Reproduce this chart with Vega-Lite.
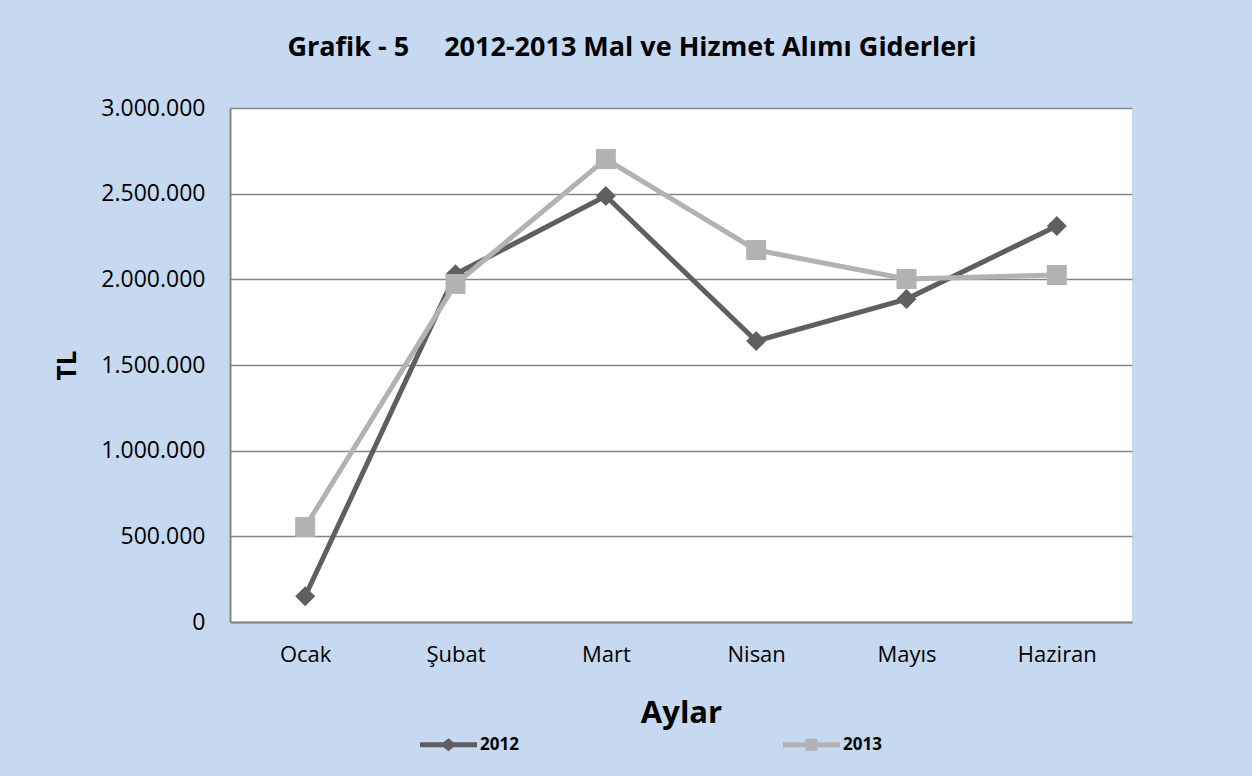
{
  "$schema": "https://vega.github.io/schema/vega-lite/v6.json",
  "width": 902,
  "height": 514,
  "autosize": {"type": "none"},
  "padding": {"left": 230, "top": 108, "right": 120, "bottom": 154},
  "background": "#c6d9f1",
  "title": {
    "text": "Grafik - 5\u00a0\u00a0\u00a0\u00a0\u00a02012-2013 Mal ve Hizmet Alımı Giderleri",
    "font": "Open Sans",
    "fontSize": 27,
    "fontWeight": "bold",
    "color": "#000000",
    "anchor": "middle",
    "frame": "group",
    "dx": -49,
    "offset": 35
  },
  "config": {
    "view": {"fill": "white", "stroke": null},
    "font": "Open Sans"
  },
  "data": {
    "values": [
      {"ay": "Ocak", "yil": "2012", "tl": 150000},
      {"ay": "Şubat", "yil": "2012", "tl": 2030000},
      {"ay": "Mart", "yil": "2012", "tl": 2486000},
      {"ay": "Nisan", "yil": "2012", "tl": 1640000},
      {"ay": "Mayıs", "yil": "2012", "tl": 1885000},
      {"ay": "Haziran", "yil": "2012", "tl": 2311000},
      {"ay": "Ocak", "yil": "2013", "tl": 554000},
      {"ay": "Şubat", "yil": "2013", "tl": 1973000},
      {"ay": "Mart", "yil": "2013", "tl": 2702000},
      {"ay": "Nisan", "yil": "2013", "tl": 2171000},
      {"ay": "Mayıs", "yil": "2013", "tl": 2002000},
      {"ay": "Haziran", "yil": "2013", "tl": 2025000}
    ]
  },
  "encoding": {
    "x": {
      "field": "ay",
      "type": "ordinal",
      "sort": ["Ocak", "Şubat", "Mart", "Nisan", "Mayıs", "Haziran"],
      "scale": {"type": "point", "padding": 0.5},
      "axis": {
        "title": "Aylar",
        "titleFont": "Open Sans",
        "titleFontSize": 31,
        "titleFontWeight": "bold",
        "titleColor": "#000000",
        "titlePadding": 33,
        "labelFont": "Open Sans",
        "labelFontSize": 22,
        "labelColor": "#000000",
        "labelAngle": 0,
        "labelPadding": 22,
        "ticks": false,
        "grid": false,
        "domainColor": "#868686",
        "domainWidth": 2
      }
    },
    "y": {
      "field": "tl",
      "type": "quantitative",
      "scale": {"domain": [0, 3000000]},
      "axis": {
        "title": "TL",
        "titleFont": "Open Sans",
        "titleFontSize": 26,
        "titleFontWeight": "bold",
        "titleColor": "#000000",
        "titlePadding": 20,
        "values": [0, 500000, 1000000, 1500000, 2000000, 2500000, 3000000],
        "labelExpr": "replace(replace(format(datum.value, ','), ',', '.'), ',', '.')",
        "labelFont": "Open Sans",
        "labelFontSize": 23,
        "labelColor": "#000000",
        "labelPadding": 25,
        "ticks": false,
        "grid": true,
        "gridColor": "#868686",
        "gridWidth": 1.5,
        "domainColor": "#868686",
        "domainWidth": 2
      }
    },
    "color": {
      "field": "yil",
      "type": "nominal",
      "scale": {"domain": ["2012", "2013"], "range": ["#5f5f5f", "#b2b2b2"]},
      "legend": {
        "title": null,
        "orient": "none",
        "direction": "horizontal",
        "columns": 2,
        "legendX": 190,
        "legendY": 608,
        "symbolSize": 3249,
        "labelFont": "Open Sans",
        "labelFontSize": 17,
        "labelFontWeight": "bold",
        "labelColor": "#000000",
        "labelOffset": 3,
        "columnPadding": 264,
        "encode": {
          "symbols": {
            "update": {
              "shape": {"signal": "datum.value == '2012' ? 'M-1,-0.088L-0.175,-0.088L0,-0.23L0.175,-0.088L1,-0.088L1,0.088L0.175,0.088L0,0.23L-0.175,0.088L-1,0.088Z' : 'M-1,-0.088L-0.21,-0.088L-0.21,-0.21L0.21,-0.21L0.21,-0.088L1,-0.088L1,0.088L0.21,0.088L0.21,0.21L-0.21,0.21L-0.21,0.088L-1,0.088Z'"},
              "fill": {"signal": "datum.value == '2012' ? '#5f5f5f' : '#b2b2b2'"},
              "stroke": {"value": "transparent"},
              "strokeWidth": {"value": 0},
              "opacity": {"value": 1},
              "fillOpacity": {"value": 1}
            }
          }
        }
      }
    }
  },
  "layer": [
    {"mark": {"type": "line", "strokeWidth": 5}},
    {
      "transform": [{"filter": "datum.yil == '2012'"}],
      "mark": {"type": "point", "filled": true, "opacity": 1, "size": 400, "shape": "diamond"}
    },
    {
      "transform": [{"filter": "datum.yil == '2013'"}],
      "mark": {"type": "point", "filled": true, "opacity": 1, "size": 400, "shape": "square"}
    }
  ]
}
